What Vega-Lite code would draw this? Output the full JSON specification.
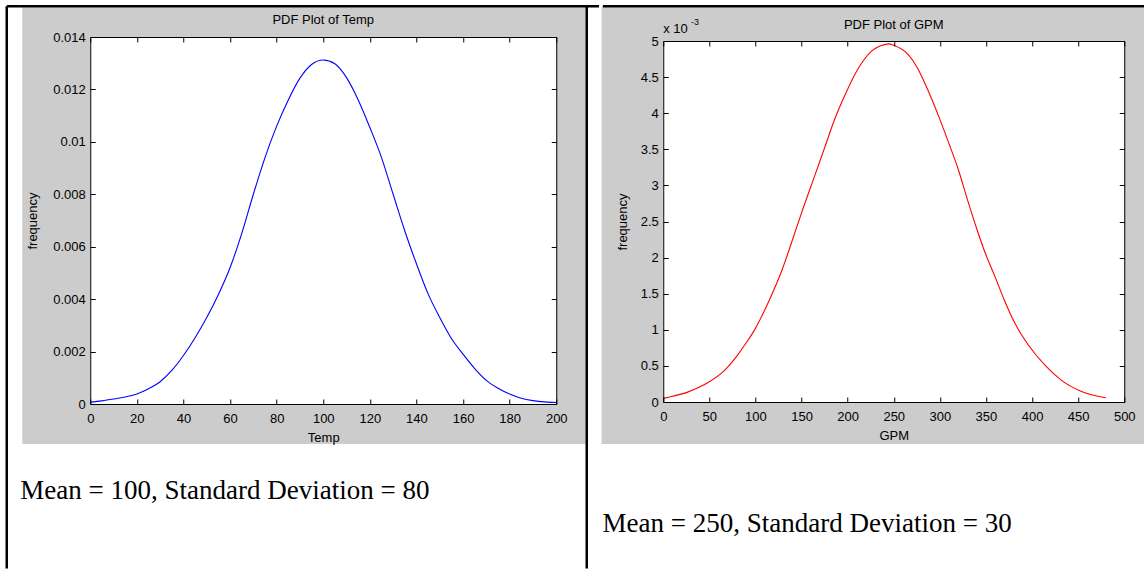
{
  "$schema": "https://vega.github.io/schema/vega-lite/v6.json",
  "background": "white",
  "padding": {"left": 5.25, "top": 3, "right": 0, "bottom": 0},
  "spacing": 0,
  "align": "none",
  "config": {
    "view": {"stroke": null},
    "axis": {
      "domainColor": "#000", "domainWidth": 1, "tickColor": "#000", "tickWidth": 1, "tickSize": -5,
      "labelColor": "#000", "labelFont": "Liberation Sans", "labelFontSize": 13,
      "titleFont": "Liberation Sans", "titleFontSize": 13, "titleFontWeight": "normal", "titleColor": "#000",
      "grid": false, "labelFlush": false, "labelOverlap": false, "labelBound": false
    },
    "axisX": {"labelPadding": 13, "titlePadding": 6},
    "axisY": {"labelPadding": 10}
  },
  "hconcat": [
    {
      "spacing": 0,
      "vconcat": [
        {
          "width": 1, "height": 1,
          "data": {"values": []},
          "mark": {"type": "point", "opacity": 0},
          "encoding": {}
        },
        {
          "width": 466,
          "height": 367,
          "resolve": {"axis": {"x": "independent", "y": "independent"}},
          "layer": [
            {
              "data": {"values": [{}]},
              "mark": {"type": "rect", "color": "#cccccc"},
              "encoding": {
                "x": {"datum": -29.18, "type": "quantitative", "axis": null, "scale": {"domain": [0, 200], "nice": false, "zero": false}},
                "x2": {"datum": 212.66},
                "y": {"datum": 0.015133, "type": "quantitative", "axis": null, "scale": {"domain": [0, 0.014], "nice": false, "zero": false}},
                "y2": {"datum": -0.001526}
              }
            },
            {
              "data": {"values": [{}]},
              "mark": {"type": "rect", "color": "#ffffff"},
              "encoding": {
                "x": {"datum": 0, "type": "quantitative", "scale": {"domain": [0, 200], "nice": false, "zero": false},
                      "axis": {"orient": "top", "zindex": 1, "title": null, "labels": false, "values": [0,20,40,60,80,100,120,140,160,180,200]}},
                "x2": {"datum": 200},
                "y": {"datum": 0, "type": "quantitative", "scale": {"domain": [0, 0.014], "nice": false, "zero": false},
                      "axis": {"orient": "right", "zindex": 1, "title": null, "labels": false, "values": [0,0.002,0.004,0.006,0.008,0.01,0.012,0.014]}},
                "y2": {"datum": 0.014}
              }
            },
            {
              "data": {"values": [
                {"Temp": 0, "frequency": 0.00007}, {"Temp": 5, "frequency": 0.00012}, {"Temp": 10, "frequency": 0.00019},
                {"Temp": 15, "frequency": 0.00027}, {"Temp": 20, "frequency": 0.00038}, {"Temp": 25, "frequency": 0.00058},
                {"Temp": 30, "frequency": 0.00085}, {"Temp": 35, "frequency": 0.00128}, {"Temp": 40, "frequency": 0.00185},
                {"Temp": 45, "frequency": 0.00253}, {"Temp": 50, "frequency": 0.0033}, {"Temp": 55, "frequency": 0.00418},
                {"Temp": 60, "frequency": 0.0052}, {"Temp": 65, "frequency": 0.0065}, {"Temp": 70, "frequency": 0.0080},
                {"Temp": 75, "frequency": 0.0094}, {"Temp": 80, "frequency": 0.0106}, {"Temp": 85, "frequency": 0.0116},
                {"Temp": 90, "frequency": 0.01243}, {"Temp": 95, "frequency": 0.01295}, {"Temp": 100, "frequency": 0.01312},
                {"Temp": 105, "frequency": 0.01298}, {"Temp": 110, "frequency": 0.01245}, {"Temp": 115, "frequency": 0.0116},
                {"Temp": 120, "frequency": 0.01055}, {"Temp": 125, "frequency": 0.0094}, {"Temp": 130, "frequency": 0.0080},
                {"Temp": 135, "frequency": 0.0066}, {"Temp": 140, "frequency": 0.00535}, {"Temp": 145, "frequency": 0.0042},
                {"Temp": 150, "frequency": 0.0033}, {"Temp": 155, "frequency": 0.0025}, {"Temp": 160, "frequency": 0.0019},
                {"Temp": 165, "frequency": 0.00135}, {"Temp": 170, "frequency": 0.0009}, {"Temp": 175, "frequency": 0.0006},
                {"Temp": 180, "frequency": 0.00038}, {"Temp": 185, "frequency": 0.00022}, {"Temp": 190, "frequency": 0.00013},
                {"Temp": 195, "frequency": 0.00008}, {"Temp": 200, "frequency": 0.00006}
              ]},
              "mark": {"type": "line", "color": "#0000ff", "strokeWidth": 1.1, "interpolate": "monotone"},
              "encoding": {
                "x": {"field": "Temp", "type": "quantitative", "scale": {"domain": [0, 200], "nice": false, "zero": false},
                      "axis": {"orient": "bottom", "zindex": 1, "title": "Temp", "values": [0,20,40,60,80,100,120,140,160,180,200]}},
                "y": {"field": "frequency", "type": "quantitative", "scale": {"domain": [0, 0.014], "nice": false, "zero": false},
                      "axis": {"orient": "left", "zindex": 1, "title": "frequency", "titlePadding": 13, "values": [0,0.002,0.004,0.006,0.008,0.01,0.012,0.014],
                               "labelExpr": "format(datum.value, '.3~f')"}}
              }
            },
            {
              "data": {"values": [{"label": "PDF Plot of Temp"}]},
              "mark": {"type": "text", "font": "Liberation Sans", "fontSize": 13, "color": "#000", "align": "center", "baseline": "alphabetic", "dy": -13},
              "encoding": {
                "text": {"field": "label"},
                "x": {"datum": 100, "type": "quantitative", "axis": null, "scale": {"domain": [0, 200]}},
                "y": {"datum": 0.014, "type": "quantitative", "axis": null, "scale": {"domain": [0, 0.014]}}
              }
            },
            {
              "data": {"values": [{"label": "Mean = 100, Standard Deviation = 80"}]},
              "mark": {"type": "text", "font": "Liberation Serif", "fontSize": 27, "color": "#000", "align": "left", "baseline": "alphabetic"},
              "encoding": {
                "text": {"field": "label"},
                "x": {"datum": -30.04, "type": "quantitative", "axis": null, "scale": {"domain": [0, 200]}},
                "y": {"datum": -0.003624, "type": "quantitative", "axis": null, "scale": {"domain": [0, 0.014]}}
              }
            },
            {
              "data": {"values": [{}]},
              "mark": {"type": "rule", "color": "#000", "strokeWidth": 2.5},
              "encoding": {
                "x": {"datum": -35.84, "type": "quantitative", "axis": null, "scale": {"domain": [0, 200]}},
                "y": {"datum": 0.015175, "type": "quantitative", "axis": null, "scale": {"domain": [0, 0.014]}},
                "y2": {"datum": -0.006275}
              }
            },
            {
              "data": {"values": [{}]},
              "mark": {"type": "rule", "color": "#000", "strokeWidth": 2.5},
              "encoding": {
                "x": {"datum": 213.09, "type": "quantitative", "axis": null, "scale": {"domain": [0, 200]}},
                "y": {"datum": 0.015175, "type": "quantitative", "axis": null, "scale": {"domain": [0, 0.014]}},
                "y2": {"datum": -0.006275}
              }
            },
            {
              "data": {"values": [{}]},
              "mark": {"type": "rule", "color": "#000", "strokeWidth": 2.5},
              "encoding": {
                "x": {"datum": -35.84, "type": "quantitative", "axis": null, "scale": {"domain": [0, 200]}},
                "x2": {"datum": 218.35},
                "y": {"datum": 0.015175, "type": "quantitative", "axis": null, "scale": {"domain": [0, 0.014]}}
              }
            }
          ]
        }
      ]
    },
    {
      "spacing": 0,
      "vconcat": [
        {
          "width": 1, "height": 1,
          "data": {"values": []},
          "mark": {"type": "point", "opacity": 0},
          "encoding": {}
        },
        {
          "width": 461,
          "height": 361,
          "resolve": {"axis": {"x": "independent", "y": "independent"}},
          "layer": [
            {
              "data": {"values": [{}]},
              "mark": {"type": "rect", "color": "#cccccc"},
              "encoding": {
                "x": {"datum": -66.92, "type": "quantitative", "axis": null, "scale": {"domain": [0, 500], "nice": false, "zero": false}},
                "x2": {"datum": 523.1},
                "y": {"datum": 0.0054668, "type": "quantitative", "axis": null, "scale": {"domain": [0, 0.005], "nice": false, "zero": false}},
                "y2": {"datum": -0.0005817}
              }
            },
            {
              "data": {"values": [{}]},
              "mark": {"type": "rect", "color": "#ffffff"},
              "encoding": {
                "x": {"datum": 0, "type": "quantitative", "scale": {"domain": [0, 500], "nice": false, "zero": false},
                      "axis": {"orient": "top", "zindex": 1, "title": null, "labels": false, "values": [0,50,100,150,200,250,300,350,400,450,500]}},
                "x2": {"datum": 500},
                "y": {"datum": 0, "type": "quantitative", "scale": {"domain": [0, 0.005], "nice": false, "zero": false},
                      "axis": {"orient": "right", "zindex": 1, "title": null, "labels": false, "values": [0,0.0005,0.001,0.0015,0.002,0.0025,0.003,0.0035,0.004,0.0045,0.005]}},
                "y2": {"datum": 0.005}
              }
            },
            {
              "data": {"values": [
                {"GPM": 0, "frequency": 0.00005}, {"GPM": 10, "frequency": 0.00008}, {"GPM": 25, "frequency": 0.00013},
                {"GPM": 40, "frequency": 0.00021}, {"GPM": 50, "frequency": 0.00028}, {"GPM": 65, "frequency": 0.00042},
                {"GPM": 80, "frequency": 0.00064}, {"GPM": 90, "frequency": 0.00082}, {"GPM": 100, "frequency": 0.00102},
                {"GPM": 115, "frequency": 0.00141}, {"GPM": 128, "frequency": 0.00180}, {"GPM": 140, "frequency": 0.00224},
                {"GPM": 150, "frequency": 0.00262}, {"GPM": 165, "frequency": 0.00316}, {"GPM": 175, "frequency": 0.00352},
                {"GPM": 186, "frequency": 0.00392}, {"GPM": 197, "frequency": 0.00425}, {"GPM": 211, "frequency": 0.00461},
                {"GPM": 226, "frequency": 0.00486}, {"GPM": 240, "frequency": 0.00495}, {"GPM": 245, "frequency": 0.00496},
                {"GPM": 250, "frequency": 0.00494}, {"GPM": 265, "frequency": 0.00482}, {"GPM": 276, "frequency": 0.00462},
                {"GPM": 287, "frequency": 0.00432}, {"GPM": 298, "frequency": 0.00398}, {"GPM": 309, "frequency": 0.00361},
                {"GPM": 320, "frequency": 0.00322}, {"GPM": 330, "frequency": 0.0028}, {"GPM": 340, "frequency": 0.0024},
                {"GPM": 349, "frequency": 0.00207}, {"GPM": 360, "frequency": 0.00173}, {"GPM": 370, "frequency": 0.00141},
                {"GPM": 381, "frequency": 0.0011}, {"GPM": 396, "frequency": 0.00079}, {"GPM": 414, "frequency": 0.00051},
                {"GPM": 432, "frequency": 0.0003}, {"GPM": 453, "frequency": 0.00015}, {"GPM": 480, "frequency": 0.00006}
              ]},
              "mark": {"type": "line", "color": "#ff0000", "strokeWidth": 1.1, "interpolate": "monotone"},
              "encoding": {
                "x": {"field": "GPM", "type": "quantitative", "scale": {"domain": [0, 500], "nice": false, "zero": false},
                      "axis": {"orient": "bottom", "zindex": 1, "title": "GPM", "values": [0,50,100,150,200,250,300,350,400,450,500]}},
                "y": {"field": "frequency", "type": "quantitative", "scale": {"domain": [0, 0.005], "nice": false, "zero": false},
                      "axis": {"orient": "left", "zindex": 1, "title": "frequency", "titlePadding": 11,
                               "values": [0,0.0005,0.001,0.0015,0.002,0.0025,0.003,0.0035,0.004,0.0045,0.005],
                               "labelExpr": "format(datum.value * 1000, '.1~f')"}}
              }
            },
            {
              "data": {"values": [{"label": "PDF Plot of GPM"}]},
              "mark": {"type": "text", "font": "Liberation Sans", "fontSize": 13, "color": "#000", "align": "center", "baseline": "alphabetic", "dy": -12},
              "encoding": {
                "text": {"field": "label"},
                "x": {"datum": 250, "type": "quantitative", "axis": null, "scale": {"domain": [0, 500]}},
                "y": {"datum": 0.005, "type": "quantitative", "axis": null, "scale": {"domain": [0, 0.005]}}
              }
            },
            {
              "data": {"values": [{"label": "x 10"}]},
              "mark": {"type": "text", "font": "Liberation Sans", "fontSize": 13, "color": "#000", "align": "left", "baseline": "alphabetic", "dy": -8},
              "encoding": {
                "text": {"field": "label"},
                "x": {"datum": 0, "type": "quantitative", "axis": null, "scale": {"domain": [0, 500]}},
                "y": {"datum": 0.005, "type": "quantitative", "axis": null, "scale": {"domain": [0, 0.005]}}
              }
            },
            {
              "data": {"values": [{"label": "-3"}]},
              "mark": {"type": "text", "font": "Liberation Sans", "fontSize": 9, "color": "#000", "align": "left", "baseline": "alphabetic", "dy": -16},
              "encoding": {
                "text": {"field": "label"},
                "x": {"datum": 30.15, "type": "quantitative", "axis": null, "scale": {"domain": [0, 500]}},
                "y": {"datum": 0.005, "type": "quantitative", "axis": null, "scale": {"domain": [0, 0.005]}}
              }
            },
            {
              "data": {"values": [{"label": "Mean = 250, Standard Deviation = 30"}]},
              "mark": {"type": "text", "font": "Liberation Serif", "fontSize": 27, "color": "#000", "align": "left", "baseline": "alphabetic"},
              "encoding": {
                "text": {"field": "label"},
                "x": {"datum": -65.84, "type": "quantitative", "axis": null, "scale": {"domain": [0, 500]}},
                "y": {"datum": -0.0018006, "type": "quantitative", "axis": null, "scale": {"domain": [0, 0.005]}}
              }
            },
            {
              "data": {"values": [{}]},
              "mark": {"type": "rule", "color": "#000", "strokeWidth": 2.5},
              "encoding": {
                "x": {"datum": -65.56, "type": "quantitative", "axis": null, "scale": {"domain": [0, 500]}},
                "x2": {"datum": 521.7},
                "y": {"datum": 0.005482, "type": "quantitative", "axis": null, "scale": {"domain": [0, 0.005]}}
              }
            }
          ]
        }
      ]
    }
  ]
}
